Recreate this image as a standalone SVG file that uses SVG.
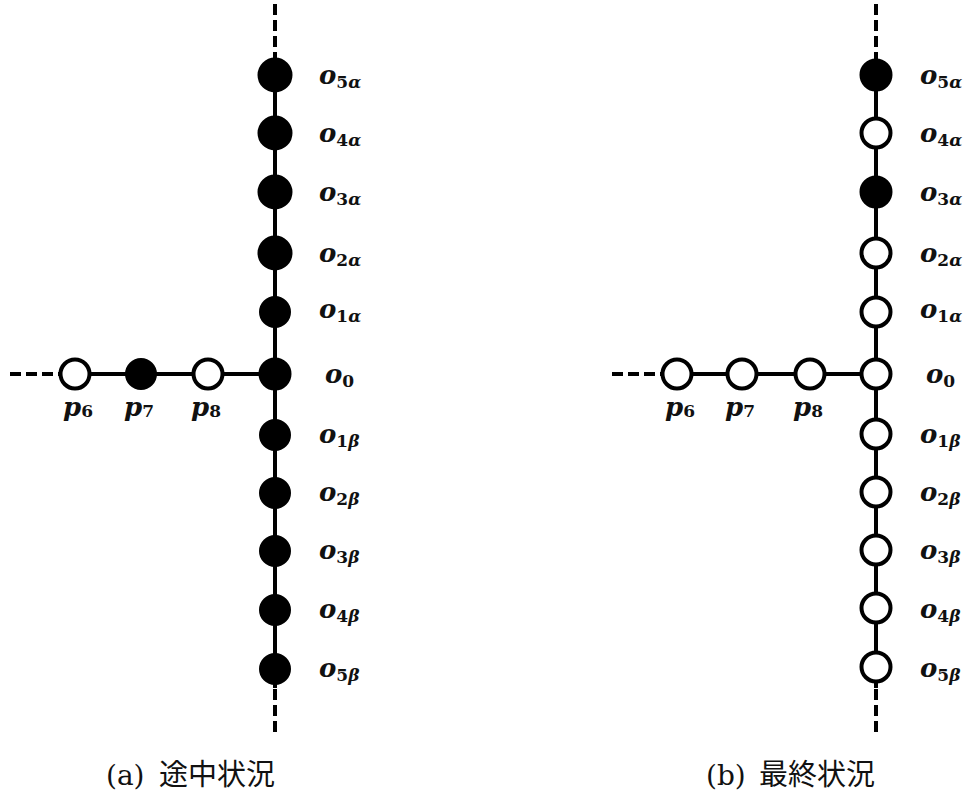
<svg xmlns="http://www.w3.org/2000/svg" width="964" height="793" viewBox="0 0 964 793">
<style>
.ln{stroke:#000;stroke-width:4;fill:none}
.ds{stroke:#000;stroke-width:4;fill:none;stroke-dasharray:11,5}
.f{fill:#000;stroke:#000;stroke-width:3}
.o{fill:#fff;stroke:#000;stroke-width:4}
.lb{font-weight:bold;font-style:italic;font-size:26px;fill:#111}
.sb{font-size:17px;font-style:normal}
.gk{font-style:italic}
.cap{font-size:29px;fill:#111}
.lat{font-family:'DejaVu Serif','Liberation Serif',serif;font-size:28px}
.cjk{font-family:'Noto Sans CJK JP','Noto Sans CJK SC',sans-serif}
</style>
<g id="connectors">
<line class="ds" x1="275" y1="4" x2="275" y2="58"/>
<line class="ln" x1="275" y1="58" x2="275" y2="688"/>
<line class="ds" x1="275" y1="689" x2="275" y2="735"/>
<line class="ds" x1="10" y1="374" x2="60" y2="374"/>
<line class="ln" x1="60" y1="374" x2="275" y2="374"/>
<line class="ds" x1="876" y1="4" x2="876" y2="58"/>
<line class="ln" x1="876" y1="58" x2="876" y2="688"/>
<line class="ds" x1="876" y1="689" x2="876" y2="735"/>
<line class="ds" x1="612" y1="374" x2="661" y2="374"/>
<line class="ln" x1="661" y1="374" x2="876" y2="374"/>
</g>
<g font-family="'DejaVu Serif','Liberation Serif',serif">
<g id="a-o5a"><circle class="f" cx="275" cy="75" r="16"/><text class="lb" x="319" y="84">o<tspan class="sb" dy="4">5<tspan class="gk">α</tspan></tspan></text></g>
<g id="a-o4a"><circle class="f" cx="275" cy="133" r="16"/><text class="lb" x="319" y="142">o<tspan class="sb" dy="4">4<tspan class="gk">α</tspan></tspan></text></g>
<g id="a-o3a"><circle class="f" cx="275" cy="192" r="16"/><text class="lb" x="319" y="201">o<tspan class="sb" dy="4">3<tspan class="gk">α</tspan></tspan></text></g>
<g id="a-o2a"><circle class="f" cx="275" cy="253" r="16"/><text class="lb" x="319" y="262">o<tspan class="sb" dy="4">2<tspan class="gk">α</tspan></tspan></text></g>
<g id="a-o1a"><circle class="f" cx="275" cy="312" r="14.5"/><text class="lb" x="319" y="318">o<tspan class="sb" dy="4">1<tspan class="gk">α</tspan></tspan></text></g>
<g id="a-o0"><circle class="f" cx="275" cy="374" r="15"/><text class="lb" x="325" y="383">o<tspan class="sb" dy="4">0</tspan></text></g>
<g id="a-o1b"><circle class="f" cx="275" cy="435" r="14.5"/><text class="lb" x="319" y="443">o<tspan class="sb" dy="4">1<tspan class="gk">β</tspan></tspan></text></g>
<g id="a-o2b"><circle class="f" cx="275" cy="493" r="14.5"/><text class="lb" x="319" y="501">o<tspan class="sb" dy="4">2<tspan class="gk">β</tspan></tspan></text></g>
<g id="a-o3b"><circle class="f" cx="275" cy="551" r="14.5"/><text class="lb" x="319" y="559">o<tspan class="sb" dy="4">3<tspan class="gk">β</tspan></tspan></text></g>
<g id="a-o4b"><circle class="f" cx="275" cy="610" r="14.5"/><text class="lb" x="319" y="618">o<tspan class="sb" dy="4">4<tspan class="gk">β</tspan></tspan></text></g>
<g id="a-o5b"><circle class="f" cx="275" cy="669" r="14.5"/><text class="lb" x="319" y="677">o<tspan class="sb" dy="4">5<tspan class="gk">β</tspan></tspan></text></g>
<g id="a-p6"><circle class="o" cx="75" cy="374" r="14.5"/><text class="lb" x="63" y="416">p<tspan class="sb" dy="1">6</tspan></text></g>
<g id="a-p7"><circle class="f" cx="141" cy="374" r="14.5"/><text class="lb" x="124" y="416">p<tspan class="sb" dy="1">7</tspan></text></g>
<g id="a-p8"><circle class="o" cx="208" cy="374" r="14.5"/><text class="lb" x="191" y="416">p<tspan class="sb" dy="1">8</tspan></text></g>
<g id="b-o5a"><circle class="f" cx="876" cy="75" r="15"/><text class="lb" x="920" y="84">o<tspan class="sb" dy="4">5<tspan class="gk">α</tspan></tspan></text></g>
<g id="b-o4a"><circle class="o" cx="876" cy="133" r="14.5"/><text class="lb" x="920" y="142">o<tspan class="sb" dy="4">4<tspan class="gk">α</tspan></tspan></text></g>
<g id="b-o3a"><circle class="f" cx="876" cy="192" r="15"/><text class="lb" x="920" y="201">o<tspan class="sb" dy="4">3<tspan class="gk">α</tspan></tspan></text></g>
<g id="b-o2a"><circle class="o" cx="876" cy="253" r="14.5"/><text class="lb" x="920" y="262">o<tspan class="sb" dy="4">2<tspan class="gk">α</tspan></tspan></text></g>
<g id="b-o1a"><circle class="o" cx="876" cy="312" r="14.5"/><text class="lb" x="920" y="318">o<tspan class="sb" dy="4">1<tspan class="gk">α</tspan></tspan></text></g>
<g id="b-o0"><circle class="o" cx="876" cy="374" r="14.5"/><text class="lb" x="926" y="383">o<tspan class="sb" dy="4">0</tspan></text></g>
<g id="b-o1b"><circle class="o" cx="876" cy="434" r="14.5"/><text class="lb" x="920" y="443">o<tspan class="sb" dy="4">1<tspan class="gk">β</tspan></tspan></text></g>
<g id="b-o2b"><circle class="o" cx="876" cy="492" r="14.5"/><text class="lb" x="920" y="501">o<tspan class="sb" dy="4">2<tspan class="gk">β</tspan></tspan></text></g>
<g id="b-o3b"><circle class="o" cx="876" cy="550" r="14.5"/><text class="lb" x="920" y="559">o<tspan class="sb" dy="4">3<tspan class="gk">β</tspan></tspan></text></g>
<g id="b-o4b"><circle class="o" cx="876" cy="608" r="14.5"/><text class="lb" x="920" y="618">o<tspan class="sb" dy="4">4<tspan class="gk">β</tspan></tspan></text></g>
<g id="b-o5b"><circle class="o" cx="876" cy="667" r="14.5"/><text class="lb" x="920" y="677">o<tspan class="sb" dy="4">5<tspan class="gk">β</tspan></tspan></text></g>
<g id="b-p6"><circle class="o" cx="677" cy="374" r="14.5"/><text class="lb" x="665" y="416">p<tspan class="sb" dy="1">6</tspan></text></g>
<g id="b-p7"><circle class="o" cx="742" cy="374" r="14.5"/><text class="lb" x="725" y="416">p<tspan class="sb" dy="1">7</tspan></text></g>
<g id="b-p8"><circle class="o" cx="810" cy="374" r="14.5"/><text class="lb" x="793" y="416">p<tspan class="sb" dy="1">8</tspan></text></g>
</g>
<g id="captions">
<text class="cap" y="785"><tspan class="lat" x="106">(a)</tspan><tspan class="cjk" x="159">途中状況</tspan></text>
<text class="cap" y="785"><tspan class="lat" x="706">(b)</tspan><tspan class="cjk" x="759">最終状況</tspan></text>
</g>
</svg>
